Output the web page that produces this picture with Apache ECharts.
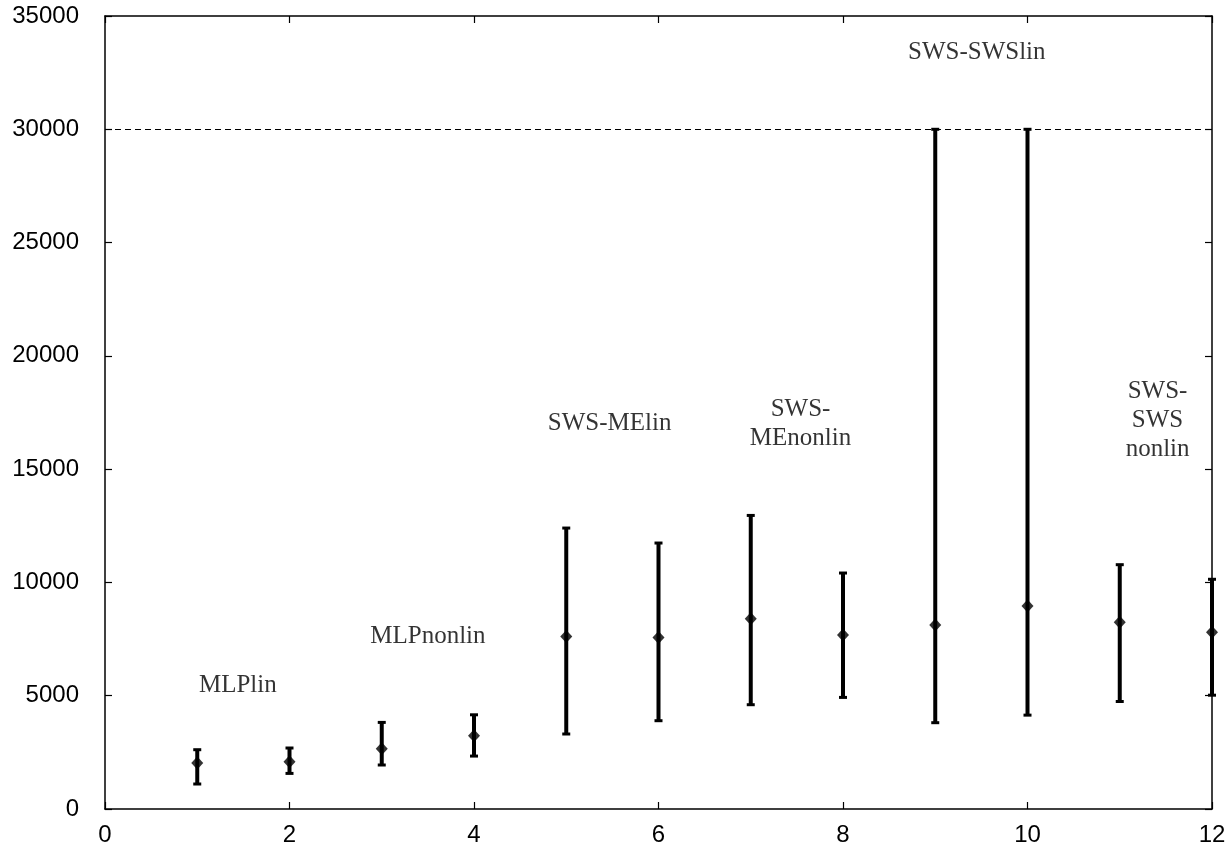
<!DOCTYPE html>
<html>
<head>
<meta charset="utf-8">
<script src="https://cdn.jsdelivr.net/npm/echarts@6/dist/echarts.min.js"></script>
<style>
html,body{margin:0;padding:0;background:#fff;}
#chart{width:1231px;height:849px;}
</style>
</head>
<body>
<div id="chart"></div>
<script>
// ---- data ----
const xValues = [1, 2, 3, 4, 5, 6, 7, 8, 9, 10, 11, 12];
const meanValues = [2030, 2087, 2661, 3232, 7617, 7573, 8398, 7679, 8125, 8962, 8243, 7803];
const upperValues = [2617, 2692, 3822, 4158, 12400, 11739, 12957, 10415, 30000, 30000, 10783, 10139];
const lowerValues = [1103, 1571, 1942, 2336, 3310, 3897, 4603, 4925, 3809, 4143, 4745, 5023];
const limitValue = 30000;
const annotationTexts = ['MLPlin', 'MLPnonlin', 'SWS-MElin', 'SWS-\nMEnonlin', 'SWS-SWSlin', 'SWS-\nSWS\nnonlin'];
const annotationX = [1.44, 3.50, 5.47, 7.54, 9.45, 11.41];
const annotationY = [5443, 7607, 17008, 17008, 33370, 17140];
const xMin = 0, xMax = 12, xStep = 2;
const yMin = 0, yMax = 35000, yStep = 5000;

// ---- build ----
const errData = xValues.map((x, i) => [x, lowerValues[i], upperValues[i]]);
const meanData = xValues.map((x, i) => [x, meanValues[i]]);
const annData = annotationTexts.map((t, i) => ({ name: t, value: [annotationX[i], annotationY[i]] }));

function makeAxis(pos, showLabel, margin, min, max, step) {
  return {
    type: 'value',
    gridIndex: 0,
    position: pos,
    min: min, max: max, interval: step,
    show: true,
    axisLine: { show: true, onZero: false, lineStyle: { color: '#000', width: 1.5 } },
    axisTick: { show: true, inside: true, length: 7, lineStyle: { color: '#000', width: 1.2 } },
    splitLine: { show: false },
    axisLabel: {
      show: showLabel,
      margin: margin,
      color: '#000',
      fontSize: 24,
      fontFamily: 'Liberation Sans, Arial, sans-serif',
      formatter: function (v) { return String(v); }
    }
  };
}

const chart = echarts.init(document.getElementById('chart'), null, { renderer: 'canvas' });
chart.setOption({
  backgroundColor: '#fff',
  animation: false,
  grid: { left: 105, right: 19, top: 16, bottom: 40 },
  xAxis: [
    makeAxis('bottom', true, 14, xMin, xMax, xStep),
    makeAxis('top', false, 8, xMin, xMax, xStep)
  ],
  yAxis: [
    makeAxis('left', true, 26, yMin, yMax, yStep),
    makeAxis('right', false, 8, yMin, yMax, yStep)
  ],
  series: [
    {
      type: 'custom',
      clip: false,
      data: errData,
      encode: { x: 0, y: [1, 2] },
      renderItem: function (params, api) {
        const x = api.value(0);
        const lo = api.coord([x, api.value(1)]);
        const hi = api.coord([x, api.value(2)]);
        const cap = 4;
        const st = { stroke: '#000', lineWidth: 4 };
        const cs = { stroke: '#000', lineWidth: 3 };
        return {
          type: 'group',
          children: [
            { type: 'line', shape: { x1: lo[0], y1: lo[1], x2: hi[0], y2: hi[1] }, style: st },
            { type: 'line', shape: { x1: hi[0] - cap, y1: hi[1], x2: hi[0] + cap, y2: hi[1] }, style: cs },
            { type: 'line', shape: { x1: lo[0] - cap, y1: lo[1], x2: lo[0] + cap, y2: lo[1] }, style: cs }
          ]
        };
      },
      markLine: {
        silent: true,
        symbol: 'none',
        label: { show: false },
        lineStyle: { color: '#000', width: 1, type: [6, 4] },
        data: [{ yAxis: limitValue }]
      },
      z: 2
    },
    {
      type: 'scatter',
      clip: false,
      data: meanData,
      symbol: 'diamond',
      symbolSize: [12, 13],
      itemStyle: { color: '#000' },
      z: 3
    },
    {
      type: 'scatter',
      clip: false,
      data: annData,
      symbolSize: 0,
      itemStyle: { color: '#000' },
      label: {
        show: true,
        position: 'inside',
        formatter: function (p) { return p.name; },
        color: '#000',
        textBorderWidth: 0,
        fontSize: 25,
        lineHeight: 29,
        align: 'center',
        fontFamily: 'Liberation Serif, Times New Roman, serif'
      },
      z: 4
    },
    { type: 'scatter', xAxisIndex: 1, yAxisIndex: 1, data: [], silent: true }
  ]
});
</script>
</body>
</html>
